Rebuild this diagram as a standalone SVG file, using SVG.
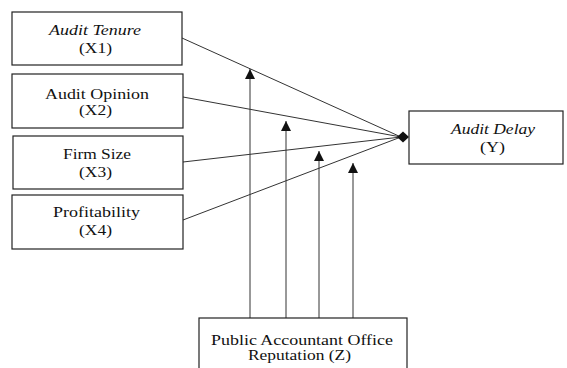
<svg xmlns="http://www.w3.org/2000/svg" width="567" height="368" viewBox="0 0 567 368">
<style>
.box{fill:#fff;stroke:#222;stroke-width:1.2}
.t{font-family:"Liberation Serif","Times New Roman",serif;font-size:14px;fill:#111;text-anchor:middle}
.i{font-style:italic}
.ln{stroke:#333;stroke-width:1;fill:none}
</style>
<defs>
<marker id="arr" viewBox="0 0 10 10" refX="10" refY="5" markerWidth="10" markerHeight="10" markerUnits="userSpaceOnUse" orient="auto">
<path d="M0,0 L10,5 L0,10 z" fill="#111"/>
</marker>
</defs>
<rect width="567" height="368" fill="#fff"/>
<g id="connectors">
<line class="ln" x1="182" y1="38" x2="401" y2="137"/>
<line class="ln" x1="183" y1="97" x2="401" y2="137"/>
<line class="ln" x1="183" y1="162" x2="401" y2="137"/>
<line class="ln" x1="183" y1="220" x2="401" y2="137"/>
<polygon points="397,137 403,131.5 409,137 403,142.5" fill="#111"/>
<line class="ln" x1="250" y1="318" x2="250" y2="69" marker-end="url(#arr)"/>
<line class="ln" x1="286" y1="318" x2="286" y2="121" marker-end="url(#arr)"/>
<line class="ln" x1="319" y1="318" x2="319" y2="151" marker-end="url(#arr)"/>
<line class="ln" x1="353" y1="318" x2="353" y2="163" marker-end="url(#arr)"/>
</g>
<g id="x1">
<rect class="box" x="12" y="12" width="170" height="53"/>
<text class="t i" x="95" y="34.5" textLength="92" lengthAdjust="spacingAndGlyphs">Audit Tenure</text>
<text class="t" x="95.5" y="53" textLength="33" lengthAdjust="spacingAndGlyphs">(X1)</text>
</g>
<g id="x2">
<rect class="box" x="12" y="74" width="171" height="54"/>
<text class="t" x="97" y="98.5" textLength="104" lengthAdjust="spacingAndGlyphs">Audit Opinion</text>
<text class="t" x="95.5" y="114.5" textLength="33" lengthAdjust="spacingAndGlyphs">(X2)</text>
</g>
<g id="x3">
<rect class="box" x="13" y="136" width="170" height="53"/>
<text class="t" x="97" y="159" textLength="68" lengthAdjust="spacingAndGlyphs">Firm Size</text>
<text class="t" x="95.5" y="177" textLength="33" lengthAdjust="spacingAndGlyphs">(X3)</text>
</g>
<g id="x4">
<rect class="box" x="12" y="195" width="171" height="54"/>
<text class="t" x="96.5" y="217" textLength="87" lengthAdjust="spacingAndGlyphs">Profitability</text>
<text class="t" x="95.5" y="234.5" textLength="33" lengthAdjust="spacingAndGlyphs">(X4)</text>
</g>
<g id="y">
<rect class="box" x="409" y="111" width="154" height="53"/>
<text class="t i" x="493" y="134" textLength="84" lengthAdjust="spacingAndGlyphs">Audit Delay</text>
<text class="t" x="492.5" y="152" textLength="25" lengthAdjust="spacingAndGlyphs">(Y)</text>
</g>
<g id="z">
<rect class="box" x="199" y="318" width="208" height="56"/>
<text class="t" x="302" y="345" textLength="182" lengthAdjust="spacingAndGlyphs">Public Accountant Office</text>
<text class="t" x="299.5" y="360" textLength="103" lengthAdjust="spacingAndGlyphs">Reputation (Z)</text>
</g>
</svg>
